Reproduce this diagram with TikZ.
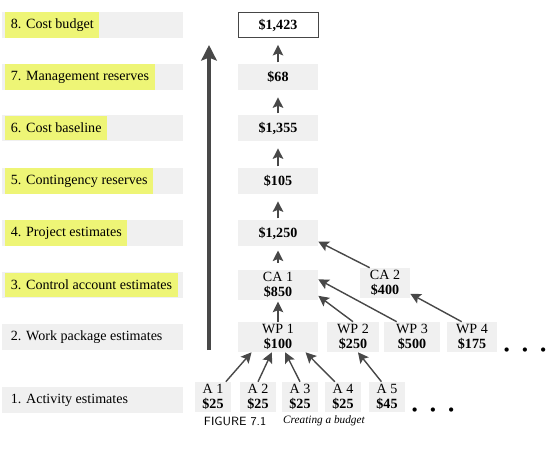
\documentclass[tikz,border=0pt]{standalone}
\usepackage{fontspec}
\setmainfont{Liberation Serif}
\usepackage{xcolor}
\usepackage{tikz}
\usetikzlibrary{arrows.meta, positioning}

\definecolor{hlYellow}{RGB}{238,245,118}
\definecolor{bandGrey}{RGB}{240,240,240}
\definecolor{arrGrey}{RGB}{72,72,72}

\begin{document}
\begin{tikzpicture}[x=0.025cm, y=-0.025cm,
    % ── bands and boxes ──
    rowBand/.style   = {fill=bandGrey, minimum width=4.525cm,
                        minimum height=0.65cm, inner sep=0pt},
    valBand/.style   = {fill=bandGrey, minimum width=2cm,
                        minimum height=0.65cm, inner sep=0pt,
                        font=\bfseries},
    pairBand/.style  = {fill=bandGrey, minimum height=0.75cm,
                        inner sep=0pt, align=center,
                        font=\fontsize{10}{10.5}\selectfont},
    budgetBox/.style = {draw=gray!55!black, fill=white, line width=0.7pt,
                        minimum width=2cm, minimum height=0.62cm,
                        inner sep=0pt, font=\bfseries},
    % ── text styles ──
    rowLabel/.style  = {anchor=west, inner xsep=4pt, inner ysep=5pt},
    marked/.style    = {fill=hlYellow},
    moreDots/.style  = {font=\scriptsize},
    capNum/.style    = {font=\sffamily\fontsize{8.5}{10}\selectfont},
    capTitle/.style  = {font=\itshape\fontsize{8}{9}\selectfont},
    % ── arrows ──
    arr/.style       = {-{Stealth[length=7.5pt, width=7.5pt, inset=1.5pt]},
                        line width=1pt, arrGrey},
    bigArr/.style    = {-{Stealth[length=11pt, width=11pt, inset=2pt]},
                        line width=2.6pt, arrGrey},
]

\useasboundingbox (0,0) rectangle (550,456);

\def\colX{278}  % centre of the value column

% =====================================================================
% Level labels (left column)
% =====================================================================
\foreach \yy/\txt in {25/8. Cost budget, 77/7. Management reserves,
                      128/6. Cost baseline, 181/5. Contingency reserves,
                      233/4. Project estimates,
                      285/3. Control account estimates}{
  \node[rowBand] (band\yy) at (92.5,\yy) {};
  \node[rowLabel, marked] (label\yy) at (5,\yy) {\txt\hspace{6pt}};
}
\foreach \yy/\txt in {337/2. Work package estimates,
                      400/1. Activity estimates}{
  \node[rowBand] (band\yy) at (92.5,\yy) {};
  \node[rowLabel] (label\yy) at (5,\yy) {\txt};
}

% =====================================================================
% Roll-up arrow
% =====================================================================
\coordinate (riseFoot) at (209,350);
\coordinate (riseTip)  at (209,45);
\draw[bigArr] (riseFoot) -- (riseTip);

% =====================================================================
% Value column (levels 4 to 8)
% =====================================================================
\node[budgetBox] (v8) at (\colX,25)  {\$1,423};
\node[valBand]   (v7) at (\colX,77)  {\$68};
\node[valBand]   (v6) at (\colX,128) {\$1,355};
\node[valBand]   (v5) at (\colX,181) {\$105};
\node[valBand]   (v4) at (\colX,233) {\$1,250};
\foreach \a/\b in {v7/v8, v6/v7, v5/v6, v4/v5}{
  \draw[arr, shorten >=5pt, shorten <=1pt] (\a) -- (\b);
}

% =====================================================================
% Control accounts
% =====================================================================
\node[pairBand, minimum width=2cm]    (ca1) at (\colX,285) {CA 1\\\textbf{\$850}};
\node[pairBand, minimum width=1.25cm] (ca2) at (385,283)   {CA 2\\\textbf{\$400}};

\draw[arr, shorten >=3pt, shorten <=5pt] (ca1.north) -- (v4.south);
\draw[arr] (ca2.135) -- (v4.-12);

% =====================================================================
% Work packages
% =====================================================================
\node[pairBand, minimum width=2cm]    (wp1) at (\colX,337) {WP 1\\\textbf{\$100}};
\node[pairBand, minimum width=1.3cm]  (wp2) at (353,337)   {WP 2\\\textbf{\$250}};
\node[pairBand, minimum width=1.38cm] (wp3) at (412,337)   {WP 3\\\textbf{\$500}};
\node[pairBand, minimum width=1.25cm] (wp4) at (472,337)   {WP 4\\\textbf{\$175}};
\node[moreDots] (wpDots) at (525,350) {$\bullet\quad\bullet\quad\bullet$};

\draw[arr, shorten >=1pt] (wp1.north) -- (ca1.south);
\draw[arr] (wp2.north) -- (ca1.-15);
\draw[arr] (wp3.135)   -- (ca1.8);
\draw[arr] (wp4.124)   -- (ca2.-23);

% =====================================================================
% Activities
% =====================================================================
\foreach \n/\xx/\cost in {1/213/25, 2/258/25, 3/300/25, 4/343/25, 5/387/45}{
  \node[pairBand, minimum width=0.9cm] (a\n) at (\xx,397)
    {A \n\\\textbf{\$\cost}};
}
\node[moreDots] (aDots) at (433,410) {$\bullet\quad\bullet\quad\bullet$};

\draw[arr] (a1.50)    -- (wp1.210);
\draw[arr] (a2.north) -- (wp1.248);
\draw[arr] (a3.north) -- (wp1.-65);
\draw[arr] (a4.118)   -- (wp1.-29);
\draw[arr] (a5.110)   -- (wp2.-72);

% =====================================================================
% Caption
% =====================================================================
\node[capNum, anchor=west] (figNum) at (199,421) {FIGURE 7.1};
\node[capTitle, right=5pt of figNum] (figTitle) {Creating a budget};

\end{tikzpicture}
\end{document}
